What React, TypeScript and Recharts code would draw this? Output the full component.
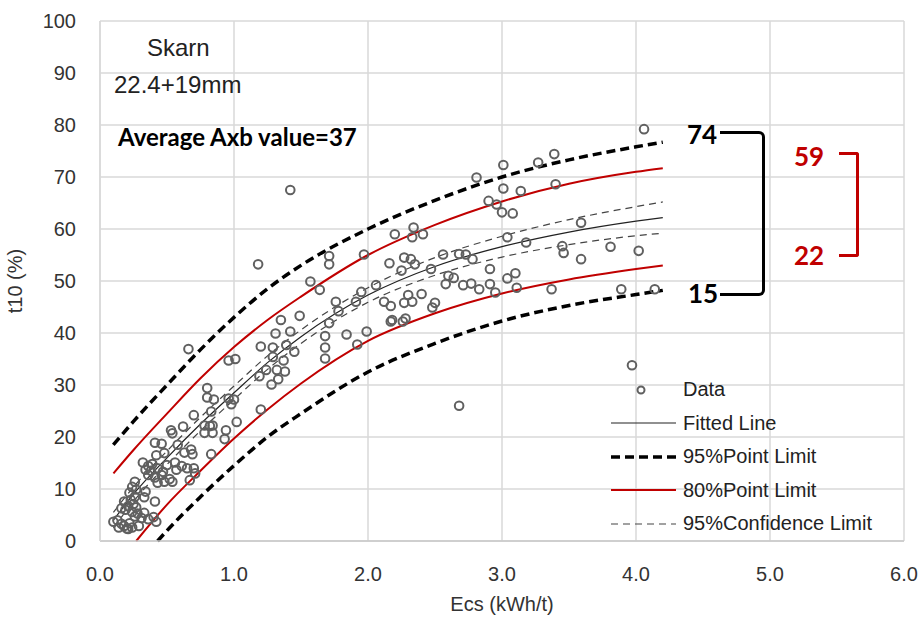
import React from "react";
import {
  ComposedChart,
  Scatter,
  Line,
  XAxis,
  YAxis,
  CartesianGrid,
} from "recharts";

// measured points (Ecs kWh/t, t10 %)
const ecsValues = [
  1.42, 1.18, 1.71, 1.71, 1.57, 1.64, 1.97, 2.2, 2.34, 2.33, 2.41, 2.16, 2.27, 2.32, 2.35, 2.25,
  2.47, 2.56, 2.68, 2.73, 2.78, 2.81, 3.01, 3.01, 3.14, 3.27, 3.39, 3.4, 2.9, 2.96, 3.0, 3.08,
  3.04, 3.18, 3.59, 3.45, 3.46, 3.59, 2.91, 3.04, 3.1, 2.91, 2.95, 3.11, 3.37, 2.71, 2.77, 2.83,
  2.58, 2.6, 2.64, 2.68, 2.06, 1.95, 1.91, 2.12, 2.17, 2.27, 2.3, 2.33, 2.4, 2.48, 2.5, 2.17,
  2.18, 2.26, 2.28, 1.99, 1.84, 1.92, 1.76, 1.78, 1.71, 1.68, 1.68, 1.68, 1.49, 1.35, 1.31, 1.42,
  1.39, 1.45, 1.2, 1.29, 1.29, 1.37, 1.24, 1.19, 1.32, 1.38, 1.33, 1.28, 1.2,
  4.06, 3.81, 4.02, 3.89, 4.14, 3.97,
  0.66, 0.96, 1.01, 0.8, 0.8, 0.85, 0.96, 1.0, 0.98, 0.83, 0.7, 1.02, 0.62, 0.53, 0.78, 0.84,
  0.54, 0.82, 0.78, 0.84, 0.41, 0.46, 0.48, 0.42, 0.58, 0.63, 0.68, 0.69, 0.83, 0.93, 0.94,
  0.32, 0.36, 0.39, 0.34, 0.38, 0.43, 0.47, 0.5, 0.56, 0.61, 0.65, 0.57, 0.36, 0.41, 0.46, 0.43,
  0.48, 0.52, 0.54, 0.7, 0.71, 0.67, 0.26, 0.24, 0.27, 0.22, 0.26, 0.23, 0.25, 0.21, 0.27, 0.34,
  0.33, 0.41, 0.18, 0.16, 0.19, 0.28, 0.26, 0.31, 0.24, 0.33, 0.36, 0.1, 0.13, 0.16, 0.14, 0.18,
  0.2, 0.22, 0.21, 0.24, 0.29, 0.4, 0.42,
];
const t10Values = [
  67.5, 53.2, 54.8, 53.2, 49.9, 48.3, 55.1, 59, 60.3, 58.4, 59, 53.4, 54.5, 54.2, 53.2, 52,
  52.3, 55.1, 55.2, 55.1, 54.2, 69.9, 72.3, 67.8, 67.3, 72.8, 74.4, 68.6, 65.4, 64.7, 63.2, 63.0,
  58.4, 57.4, 61.2, 56.7, 55.4, 54.2, 52.3, 50.5, 51.5, 49.4, 47.8, 48.7, 48.4, 49.2, 49.5, 48.4,
  49.4, 51, 50.6, 26, 49.2, 47.9, 46, 46, 45.2, 45.8, 47.3, 46, 47.5, 44.9, 45.8, 42.2,
  42.5, 42.2, 42.8, 40.3, 39.7, 37.8, 46, 44.2, 41.9, 39.4, 37.2, 35.1, 43.3, 42.5, 39.9, 40.3,
  37.7, 36.4, 37.4, 37.2, 35.4, 34.7, 32.9, 31.7, 32.9, 32.6, 31.1, 30.1, 25.3,
  79.2, 56.6, 55.8, 48.4, 48.4, 33.8,
  36.9, 34.7, 35, 29.4, 27.6, 27.2, 27.4, 27.2, 26.3, 24.9, 24.2, 22.9, 22, 21.3, 22.2, 22.2,
  20.7, 22.1, 20.8, 20.8, 18.9, 18.7, 16.9, 16.5, 18.5, 17, 17.6, 16.7, 16.7, 19.6, 21.3,
  15.1, 14.4, 14.8, 13.7, 13.5, 14, 13.3, 14.6, 15.1, 14.4, 14, 13.7, 12.7, 12.2, 12.7, 11.2,
  11.4, 11.9, 11.4, 14, 13, 11.7, 11.4, 10.4, 9.9, 9.3, 8.5, 7.9, 7.1, 6.7, 6.5, 9.5,
  8.4, 7.6, 7.6, 6.3, 6, 5.3, 4.7, 4.4, 5.6, 5.4, 4.2, 3.7, 4, 3.3, 2.6, 2.9,
  2.4, 3.4, 2.3, 2.6, 2.9, 4.6, 3.7,
];

// curves
const curveX = [0.1, 0.25, 0.5, 0.75, 1.0, 1.25, 1.5, 2.0, 2.5, 3.0, 3.5, 4.0, 4.2];
const fitY = [4, 9, 16, 22.5, 28.5, 34.3, 39.3, 47.3, 52.8, 56.6, 59.4, 61.5, 62.2];
const confHiY = [5.5, 10.4, 17.3, 23.8, 29.8, 35.6, 40.6, 48.7, 54.5, 58.6, 61.8, 64.3, 65.2];
const confLoY = [2.5, 7.6, 14.7, 21.2, 27.2, 33, 38, 45.9, 51.1, 54.6, 57, 58.7, 59.2];
const pl95HiY = [18.5, 23, 30, 36.8, 43, 48.5, 53, 60, 65.5, 70, 73.3, 75.8, 76.7];
const pl80HiY = [13, 17.5, 24.5, 31.3, 37.3, 42.5, 47, 55, 60.8, 65.3, 68.7, 71, 71.7];
const pl95LoX = [0.43, 0.5, 0.75, 1.0, 1.25, 1.5, 2.0, 2.5, 3.0, 3.5, 4.0, 4.2];
const pl95LoY = [0, 2, 8.5, 14.5, 20, 24.5, 32.5, 38, 42.3, 45.3, 47.4, 48.2];
const pl80LoX = [0.27, 0.5, 0.75, 1.0, 1.25, 1.5, 2.0, 2.5, 3.0, 3.5, 4.0, 4.2];
const pl80LoY = [0, 7, 13.5, 19.7, 25.3, 30.3, 38.5, 43.8, 47.6, 50.3, 52.3, 53];

const xTicks = [0, 1, 2, 3, 4, 5, 6];
const yTicks = [0, 10, 20, 30, 40, 50, 60, 70, 80, 90, 100];

const legendItems = ["Data", "Fitted Line", "95%Point Limit", "80%Point Limit", "95%Confidence Limit"];

const pairs = (xs: number[], ys: number[]) => xs.map((x, i) => ({ x, y: ys[i] }));

const points = pairs(ecsValues, t10Values);
const fitData = pairs(curveX, fitY);
const confHi = pairs(curveX, confHiY);
const confLo = pairs(curveX, confLoY);
const pl95Hi = pairs(curveX, pl95HiY);
const pl95Lo = pairs(pl95LoX, pl95LoY);
const pl80Hi = pairs(curveX, pl80HiY);
const pl80Lo = pairs(pl80LoX, pl80LoY);

const FONT = '"Liberation Sans", Arial, sans-serif';
const BOLD_FONT = 'Lato, "Open Sans", sans-serif';
const RED = "#C00000";
const TICK = { fill: "#333", fontSize: 20, fontFamily: FONT };

const Ring = (props: any) => (
  <circle cx={props.cx} cy={props.cy} r={4.3} fill="none" stroke="#606060" strokeWidth={2} />
);

function LegendSample({ i }: { i: number }) {
  const common = { x1: 0, x2: 65, y1: 8, y2: 8 };
  return (
    <svg width={65} height={16} style={{ display: "block" }}>
      {i === 0 && <circle cx={30} cy={8} r={3.5} fill="none" stroke="#606060" strokeWidth={2} />}
      {i === 1 && <line {...common} stroke="#222" strokeWidth={1.2} />}
      {i === 2 && <line {...common} stroke="#000" strokeWidth={3.5} strokeDasharray="9 5" />}
      {i === 3 && <line {...common} stroke={RED} strokeWidth={2} />}
      {i === 4 && <line {...common} stroke="#444" strokeWidth={1.2} strokeDasharray="7 5" />}
    </svg>
  );
}

export default function App() {
  const abs = (left: number, top: number, extra: React.CSSProperties = {}): React.CSSProperties => ({
    position: "absolute",
    left,
    top,
    lineHeight: 1,
    whiteSpace: "nowrap",
    ...extra,
  });

  return (
    <div style={{ position: "relative", width: 918, height: 617, overflow: "hidden", fontFamily: FONT }}>
      <style>{"body{margin:0}"}</style>
      <ComposedChart width={918} height={617} margin={{ top: 21, right: 14, left: 0, bottom: 0 }}>
        <CartesianGrid stroke="#d9d9d9" strokeWidth={1.5} />
        <XAxis
          type="number"
          dataKey="x"
          domain={[0, 6]}
          ticks={xTicks}
          tickFormatter={(v) => Number(v).toFixed(1)}
          tick={TICK}
          tickLine={false}
          tickSize={0}
          tickMargin={26}
          height={76}
          axisLine={{ stroke: "#c8c8c8", strokeWidth: 1.5 }}
          label={{
            content: ({ viewBox }: any) => (
              <text
                x={viewBox.x + viewBox.width / 2}
                y={viewBox.y + 70}
                textAnchor="middle"
                fontSize={20}
                fill="#333"
                fontFamily={FONT}
              >
                Ecs (kWh/t)
              </text>
            ),
          }}
        />
        <YAxis
          type="number"
          domain={[0, 100]}
          ticks={yTicks}
          tick={TICK}
          tickLine={false}
          tickSize={0}
          tickMargin={24}
          width={100}
          axisLine={{ stroke: "#d9d9d9", strokeWidth: 1.5 }}
          label={{
            content: ({ viewBox }: any) => {
              const cx = viewBox.x + 22;
              const cy = viewBox.y + viewBox.height / 2;
              return (
                <text
                  x={cx}
                  y={cy}
                  textAnchor="middle"
                  fontSize={20}
                  fill="#333"
                  fontFamily={FONT}
                  transform={`rotate(-90 ${cx} ${cy})`}
                >
                  t10 (%)
                </text>
              );
            },
          }}
        />
        <Scatter data={points} dataKey="y" shape={Ring} isAnimationActive={false} />
        <Line data={pl95Hi} dataKey="y" type="monotone" stroke="#000" strokeWidth={3.5} strokeDasharray="9 5" dot={false} isAnimationActive={false} />
        <Line data={pl95Lo} dataKey="y" type="monotone" stroke="#000" strokeWidth={3.5} strokeDasharray="9 5" dot={false} isAnimationActive={false} />
        <Line data={pl80Hi} dataKey="y" type="monotone" stroke={RED} strokeWidth={2} dot={false} isAnimationActive={false} />
        <Line data={pl80Lo} dataKey="y" type="monotone" stroke={RED} strokeWidth={2} dot={false} isAnimationActive={false} />
        <Line data={confHi} dataKey="y" type="monotone" stroke="#444" strokeWidth={1.2} strokeDasharray="7 5" dot={false} isAnimationActive={false} />
        <Line data={confLo} dataKey="y" type="monotone" stroke="#444" strokeWidth={1.2} strokeDasharray="7 5" dot={false} isAnimationActive={false} />
        <Line data={fitData} dataKey="y" type="monotone" stroke="#222" strokeWidth={1.2} dot={false} isAnimationActive={false} />
      </ComposedChart>

      {/* annotations */}
      <div style={abs(147, 36, { fontSize: 24, color: "#222" })}>Skarn</div>
      <div style={abs(114, 73, { fontSize: 24, color: "#222" })}>22.4+19mm</div>
      <div style={abs(118, 125, { fontSize: 24, fontWeight: 700, fontFamily: BOLD_FONT, color: "#000" })}>
        Average Axb value=37
      </div>

      <div style={abs(687, 121, { fontSize: 26, fontWeight: 700, fontFamily: BOLD_FONT, color: "#000" })}>74</div>
      <div style={abs(688, 280, { fontSize: 26, fontWeight: 700, fontFamily: BOLD_FONT, color: "#000" })}>15</div>
      <div
        style={abs(720, 131, {
          width: 42,
          height: 159,
          borderTop: "3px solid #000",
          borderRight: "3px solid #000",
          borderBottom: "3px solid #000",
          borderRadius: "0 6px 6px 0",
        })}
      />
      <div style={abs(794, 143, { fontSize: 26, fontWeight: 700, fontFamily: BOLD_FONT, color: RED })}>59</div>
      <div style={abs(794, 242, { fontSize: 26, fontWeight: 700, fontFamily: BOLD_FONT, color: RED })}>22</div>
      <div
        style={abs(839, 152, {
          width: 17,
          height: 99,
          borderTop: `3px solid ${RED}`,
          borderRight: `3px solid ${RED}`,
          borderBottom: `3px solid ${RED}`,
          borderRadius: "0 3px 3px 0",
        })}
      />

      {/* legend */}
      <div style={{ position: "absolute", left: 611, top: 373 }}>
        {legendItems.map((name, i) => (
          <div key={name} style={{ display: "flex", alignItems: "center", height: 33.5 }}>
            <LegendSample i={i} />
            <span style={{ marginLeft: 7, fontSize: 20, color: "#222" }}>{name}</span>
          </div>
        ))}
      </div>
    </div>
  );
}
